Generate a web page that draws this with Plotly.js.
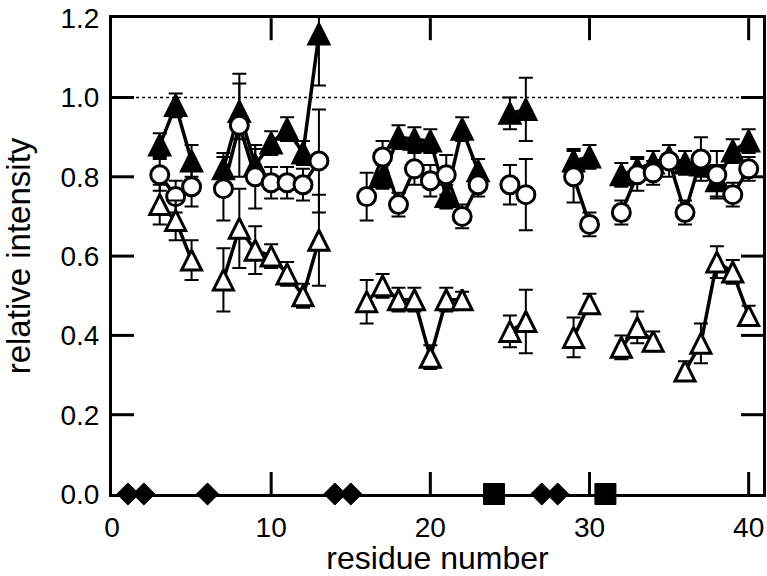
<!DOCTYPE html>
<html>
<head>
<meta charset="utf-8">
<script src="https://cdn.plot.ly/plotly-3.0.1.min.js"></script>
<style>
  html, body { margin: 0; padding: 0; background: #fff; }
  #chart { width: 767px; height: 576px; }
</style>
</head>
<body>
<div id="chart"></div>
<script>
// ---- data ----
const residue = [1,2,3,4,5,6,7,8,9,10,11,12,13,14,15,16,17,18,19,20,21,22,23,24,25,26,27,28,29,30,31,32,33,34,35,36,37,38,39,40];

const filledTri    = [null,null,0.88,0.98,0.84,null,0.82,0.965,0.83,0.885,0.92,0.86,1.16,null,null,null,0.80,0.90,0.895,0.89,0.75,0.92,0.815,null,0.96,0.97,null,null,0.84,0.85,null,0.805,0.82,0.835,0.85,0.835,0.83,0.79,0.865,0.89];
const filledTriErr = [null,null,0.03,0.03,0.04,null,0.04,0.07,0.04,0.03,0.03,0.03,0.13,null,null,null,0.03,0.03,0.03,0.03,0.03,0.03,0.03,null,0.04,0.08,null,null,0.03,0.03,null,0.03,0.03,0.03,0.03,0.03,0.03,0.04,0.03,0.03];

const circle    = [null,null,0.805,0.75,0.775,null,0.77,0.93,0.80,0.785,0.785,0.78,0.84,null,null,0.75,0.85,0.73,0.82,0.79,0.805,0.70,0.78,null,0.78,0.755,null,null,0.80,0.68,null,0.71,0.805,0.81,0.84,0.71,0.845,0.805,0.755,0.82];
const circleErr = [null,null,0.04,0.04,0.05,null,0.08,0.13,0.08,0.04,0.04,0.04,0.13,null,null,0.06,0.04,0.03,0.04,0.04,0.05,0.03,0.03,null,0.05,0.09,null,null,0.065,0.03,null,0.03,0.04,0.03,0.04,0.03,0.055,0.06,0.03,0.03];

const openTri    = [null,null,0.73,0.69,0.59,null,0.54,0.67,0.615,0.60,0.555,0.50,0.64,null,null,0.485,0.525,0.49,0.49,0.345,0.49,0.49,null,null,0.41,0.435,null,null,0.395,0.48,null,0.37,0.42,0.385,null,0.31,0.38,0.585,0.56,0.45];
const openTriErr = [null,null,0.05,0.05,0.05,null,0.08,0.10,0.06,0.03,0.03,0.03,0.115,null,null,0.055,0.03,0.03,0.03,0.03,0.03,0.02,null,null,0.04,0.08,null,null,0.05,0.025,null,0.03,0.04,0.025,null,0.025,0.05,0.04,0.03,0.025];

const diamondRes = [1,2,6,14,15,27,28];
const diamondVal = [0,0,0,0,0,0,0];
const squareRes  = [24,31];
const squareVal  = [0,0];

const xTicks = [0,10,20,30,40];
const yTicks = [0,0.2,0.4,0.6,0.8,1.0,1.2];
const referenceLevel = 1.0;

// ---- styling ----
const FONT = 'Liberation Sans, Arial, Helvetica, sans-serif';
const TRI = 20;
const TICKLEN = 22;            // px
const X_MAX = 40.9, Y_MAX = 1.2;
const W = 767, H = 576;
const MARGIN = {l: 112, r: 4, t: 18, b: 82};
const plotW = W - MARGIN.l - MARGIN.r;
const plotH = H - MARGIN.t - MARGIN.b;

function errBar(arr) {
  return {type: 'data', array: arr, visible: true, color: '#000', thickness: 2, width: 7};
}
function triMarker(fill) {
  // upward triangle whose bounding-box centre sits on the value
  return {symbol: 'arrow-down', angle: 180, standoff: TRI / 2, size: TRI,
          color: fill, line: {color: '#000', width: 3}};
}

// inward tick marks on all four sides, drawn at the axis tick values
const tickLenX = TICKLEN / plotW * X_MAX;   // tick length expressed in x units
const tickLenY = TICKLEN / plotH * Y_MAX;   // tick length expressed in y units
const tickX = [], tickY = [];
xTicks.filter(v => v > 0 && v < X_MAX).forEach(v => {
  tickX.push(v, v, null, v, v, null);
  tickY.push(0, tickLenY, null, Y_MAX, Y_MAX - tickLenY, null);
});
yTicks.filter(v => v > 0 && v < Y_MAX).forEach(v => {
  tickX.push(0, tickLenX, null, X_MAX, X_MAX - tickLenX, null);
  tickY.push(v, v, null, v, v, null);
});

const traces = [
  {x: tickX, y: tickY, mode: 'lines', line: {color: '#000', width: 3}, connectgaps: false,
   hoverinfo: 'skip', cliponaxis: false, showlegend: false},
  {x: residue, y: filledTri, error_y: errBar(filledTriErr), mode: 'lines+markers',
   line: {color: '#000', width: 3.5}, marker: triMarker('#000'),
   cliponaxis: false, connectgaps: false, showlegend: false},
  {x: residue, y: circle, error_y: errBar(circleErr), mode: 'lines+markers',
   line: {color: '#000', width: 3.5}, marker: {symbol: 'circle', size: 18, color: '#fff', line: {color: '#000', width: 3}},
   cliponaxis: false, connectgaps: false, showlegend: false},
  {x: residue, y: openTri, error_y: errBar(openTriErr), mode: 'lines+markers',
   line: {color: '#000', width: 3.5}, marker: triMarker('#fff'),
   cliponaxis: false, connectgaps: false, showlegend: false},
  {x: diamondRes, y: diamondVal, mode: 'markers',
   marker: {symbol: 'diamond', size: 17, color: '#000', line: {color: '#000', width: 1}},
   cliponaxis: false, showlegend: false},
  {x: squareRes, y: squareVal, mode: 'markers',
   marker: {symbol: 'square', size: 21, color: '#000', line: {color: '#000', width: 1}},
   cliponaxis: false, showlegend: false}
];

function axis(extra) {
  return Object.assign({
    showgrid: false, zeroline: false, showline: true, linecolor: '#000', linewidth: 3,
    mirror: true, ticks: '', layer: 'above traces', ticklabeloverflow: 'allow',
    tickfont: {family: FONT, size: 28, color: '#000'}
  }, extra);
}

const layout = {
  width: W, height: H,
  margin: MARGIN,
  paper_bgcolor: '#fff', plot_bgcolor: '#fff',
  font: {family: FONT, color: '#000'},
  showlegend: false,
  xaxis: axis({
    range: [0, X_MAX], tickvals: xTicks, ticklabelstandoff: 6,
    title: {text: 'residue number', font: {family: FONT, size: 32, color: '#000'}, standoff: 8}
  }),
  yaxis: axis({
    range: [0, Y_MAX + 0.0005], tickvals: yTicks, tickformat: '.1f', ticklabelstandoff: 4,
    title: {text: 'relative intensity', font: {family: FONT, size: 33, color: '#000'}, standoff: 26}
  }),
  shapes: [{type: 'line', xref: 'paper', x0: 0, x1: 1, yref: 'y', y0: referenceLevel, y1: referenceLevel,
            line: {color: '#000', width: 1.5, dash: '3px,3px'}, layer: 'below'}]
};

Plotly.newPlot('chart', traces, layout, {displayModeBar: false, responsive: false});
</script>
</body>
</html>
